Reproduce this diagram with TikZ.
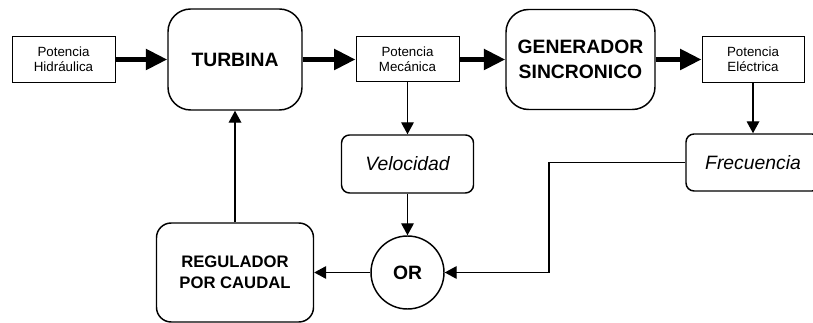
\documentclass[tikz,border=0pt]{standalone}
\usepackage{fontspec}
\setmainfont{Liberation Sans}
\usetikzlibrary{arrows.meta, positioning, calc}

\begin{document}
\begin{tikzpicture}[x=0.75pt, y=-0.75pt,
    caja/.style={draw, line width=0.75pt, inner sep=0pt, align=center,
        font=\fontsize{10}{11}\selectfont},
    bloque/.style={draw, line width=1.1pt, rounded corners=17pt, inner sep=0pt,
        align=center, font=\fontsize{14.5}{19}\selectfont\bfseries},
    senal/.style={draw, line width=1.1pt, rounded corners=6pt, inner sep=0pt,
        font=\fontsize{14.5}{17}\selectfont\itshape},
    flecha/.style={line width=3.75pt, -{Triangle[length=16pt, width=15pt]}},
    linea/.style={line width=1pt, -{Triangle[length=9pt, width=9.5pt]}}]
                \useasboundingbox (0,0) rectangle (813,323);

                \node[caja, minimum width=77.25pt, minimum height=34.5pt] (hidr) at (63.5,59.5) {Potencia\\Hidráulica};
                \node[bloque, minimum width=100.5pt, minimum height=75.75pt] (turb) at (235,59.5) {TURBINA};
                \node[caja, minimum width=77.25pt, minimum height=33.75pt] (mec) at (407.5,59.5) {Potencia\\Mecánica};
                \node[bloque, minimum width=111.75pt, minimum height=75pt] (gen) at (580.5,59.5) {GENERADOR\\SINCRONICO};
                \node[caja, minimum width=76.5pt, minimum height=34.5pt] (elec) at (753,59.5) {Potencia\\Eléctrica};

                \node[senal, minimum width=99pt, minimum height=43.5pt] (vel) at (407.5,164) {Velocidad};
                \node[senal, minimum width=100.5pt, minimum height=42.75pt] (frec) at (753,162.5) {Frecuencia};

                \node[draw, circle, line width=1.1pt, minimum size=54.75pt, inner sep=0pt,
                    font=\fontsize{14.5}{17}\selectfont\bfseries] (or) at (407.5,272.5) {OR};
                \node[bloque, rounded corners=11pt, minimum width=117.75pt, minimum height=74.25pt,
                    font=\fontsize{12.5}{16}\selectfont\bfseries] (reg) at (235,272.5) {REGULADOR\\POR CAUDAL};

                \coordinate (codo) at (549,162.5);

                \draw[flecha] (hidr) to (turb);
                \draw[flecha] (turb) to (mec);
                \draw[flecha] (mec) to (gen);
                \draw[flecha] (gen) to (elec);

                \draw[linea] (mec) to (vel);
                \draw[linea] (elec) to (frec);
                \draw[linea] (vel) to (or);
                \draw[line width=1pt] (frec.west) -- (codo);
                \draw[linea] (codo) |- (or);
                \draw[linea] (or) to (reg);
                \draw[linea] (reg) to (turb);
            \end{tikzpicture}
\end{document}
